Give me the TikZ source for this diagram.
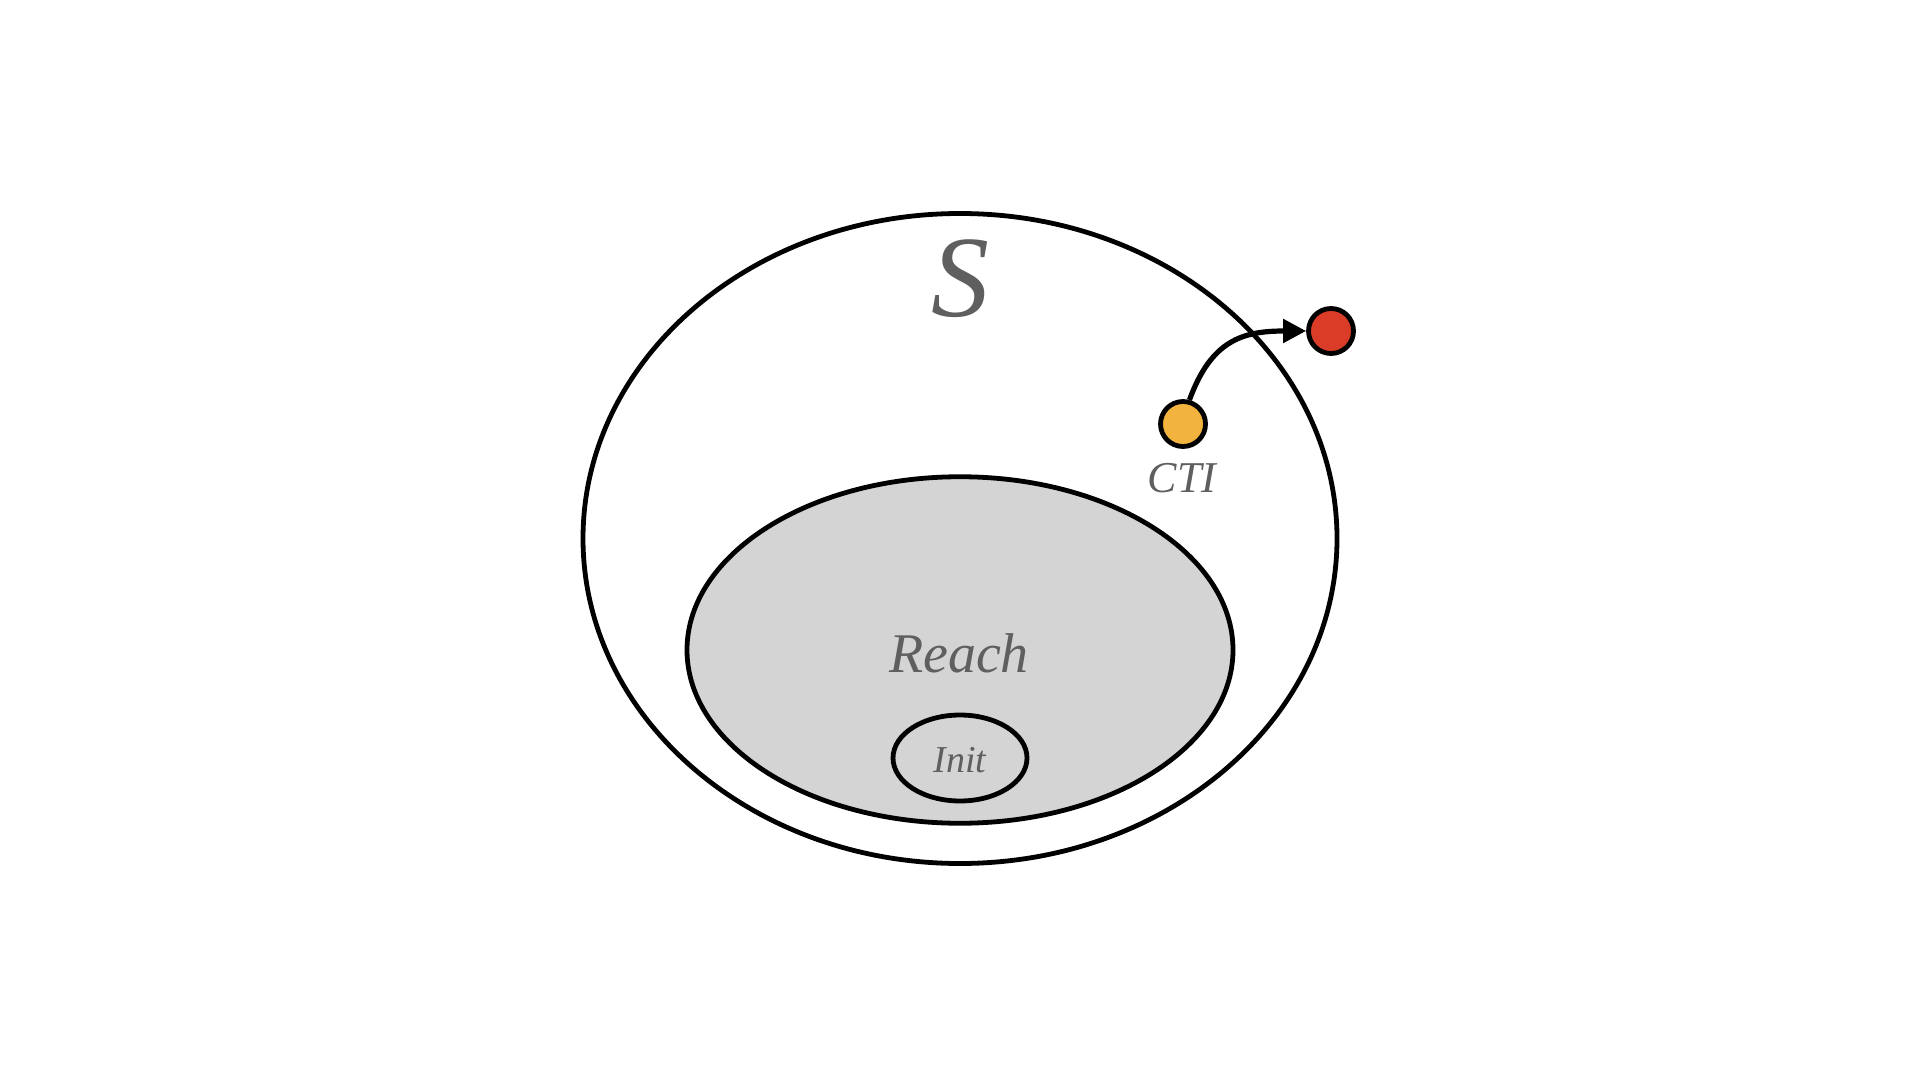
\documentclass[tikz,border=0pt]{standalone}
\usepackage{fontspec}
\setmainfont{Liberation Serif}
\usetikzlibrary{shapes.geometric,arrows.meta}
\definecolor{lbl}{HTML}{5F5F5F}
\definecolor{reachfill}{HTML}{D4D4D4}
\definecolor{ctiyellow}{HTML}{F2B33F}
\definecolor{badred}{HTML}{DA3C27}
\tikzset{
  setshape/.style={ellipse, draw=black, line width=2.4pt, inner sep=0pt},
  statedot/.style={circle, draw=black, line width=2.4pt, inner sep=0pt, minimum size=22.5pt},
  lbltext/.style={text=lbl, font=\itshape, inner sep=0pt, anchor=base},
  trans/.style={line width=2.6pt, -{Triangle[length=11.5pt,width=11.5pt]}}
}
\begin{document}
\begin{tikzpicture}[x=0.5pt,y=-0.5pt]
\useasboundingbox (0,0) rectangle (1920,1080);
\node[setshape, minimum width=377pt, minimum height=325pt] (S) at (960,538.5) {};
\node[setshape, fill=reachfill, minimum width=273pt, minimum height=173.25pt] (reach) at (960,650) {};
\node[setshape, minimum width=67pt, minimum height=43pt] (init) at (960,758) {};
\node[lbltext, font=\itshape\fontsize{58}{60}\selectfont] (slabel) at (960,317) {S};
\node[lbltext, font=\itshape\fontsize{28}{30}\selectfont] (reachlabel) at (959,672) {Reach};
\node[lbltext, font=\itshape\fontsize{19}{21}\selectfont] (initlabel) at (960,772) {Init};
\node[statedot, fill=ctiyellow] (cti) at (1183,424) {};
\node[statedot, fill=badred] (bad) at (1331,331) {};
\node[lbltext, font=\itshape\fontsize{22}{24}\selectfont] (ctilabel) at (1182,492) {CTI};
\draw[trans] (cti.75) to[out=70, in=180, looseness=1.2] (bad.west);
\end{tikzpicture}
\end{document}
